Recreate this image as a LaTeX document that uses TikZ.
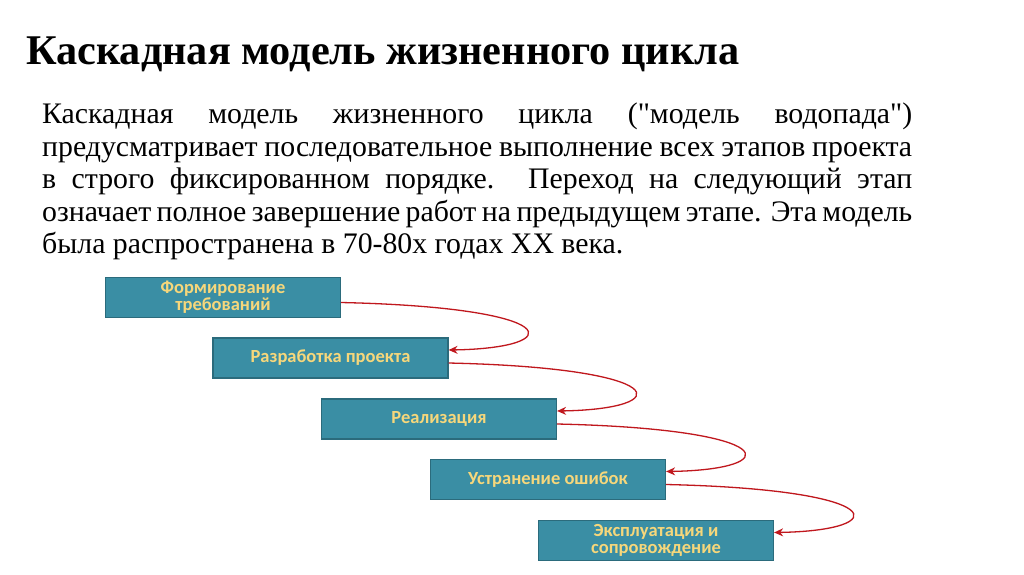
\documentclass[tikz,border=0pt]{standalone}
\usepackage{fontspec}
\setmainfont{Liberation Serif}
\setmonofont{Liberation Serif}
\newfontfamily\boxfont{Carlito}
\usetikzlibrary{arrows.meta}
\definecolor{boxfill}{HTML}{3A8EA4}
\definecolor{boxline}{HTML}{2B6B7C}
\definecolor{boxtext}{HTML}{F6D77B}
\definecolor{arr}{HTML}{C0171D}
\tikzset{
  stage/.style={draw=boxline, line width=1.2pt, fill=boxfill, minimum width=235pt, minimum height=40pt, inner sep=0pt, align=center, text=boxtext, font=\boxfont\bfseries\fontsize{18.5}{19}\selectfont},
  flow/.style={draw=arr, line width=1.3pt, -{Stealth[length=9pt,width=8pt,inset=3pt]}}
}
\begin{document}
\begin{tikzpicture}[x=1pt,y=-1pt]
\useasboundingbox[fill=white] (0,0) rectangle (1024,574);
\node[anchor=base west, inner sep=0pt, font=\bfseries\fontsize{42.3}{46}\selectfont] (title) at (26,64) {Каскадная модель жизненного цикла};
\node[anchor=north west, inner sep=0pt, text width=870pt, align=justify, font=\fontsize{29.8}{32.5}\selectfont] (body) at (42,103) {Каскадная модель жизненного цикла (\texttt{"}модель водопада\texttt{"}) предусматривает последовательное выполнение всех этапов проекта в строго фиксированном порядке. Переход на следующий этап означает полное завершение работ на предыдущем этапе. Эта модель была распространена в 70-80х годах XX века.};
\node[stage] (s1) at (223,297.5) {Формирование\\[-2pt]требований};
\node[stage] (s2) at (330.5,358) {Разработка проекта};
\node[stage] (s3) at (439,419) {Реализация};
\node[stage] (s4) at (548,479.5) {Устранение ошибок};
\node[stage] (s5) at (656,540.5) {Эксплуатация и\\[-2pt]сопровождение};
\foreach \a/\b in {s1/s2,s2/s3,s3/s4,s4/s5}{
  \draw[flow] ([yshift=-5pt]\a.east) .. controls ++(225,5) and ++(120,-2) .. ([yshift=8pt]\b.east);
}
\end{tikzpicture}
\end{document}
